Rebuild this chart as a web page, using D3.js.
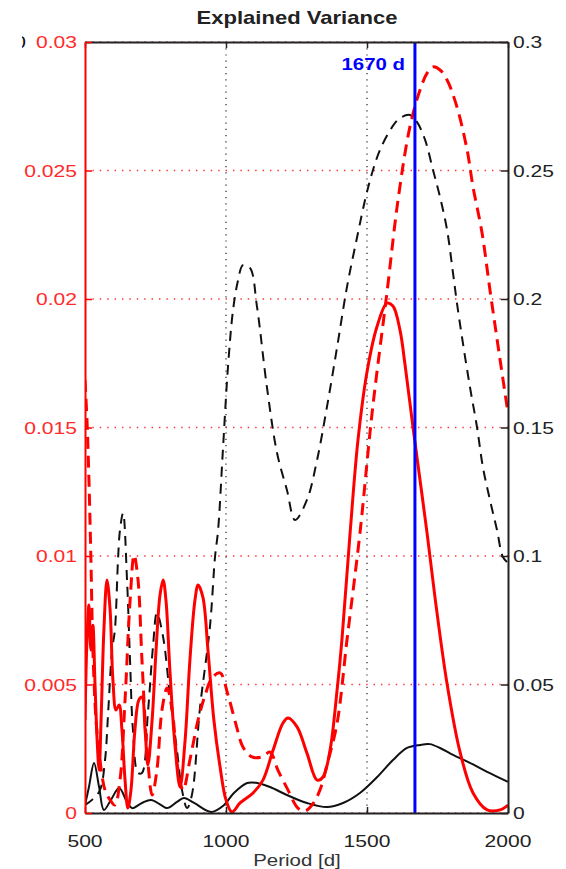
<!DOCTYPE html>
<html>
<head>
<meta charset="utf-8">
<script src="https://cdn.jsdelivr.net/npm/d3@7"></script>
<style>
  html, body { margin: 0; padding: 0; background: #fff; }
  svg { display: block; }
  text { font-family: "Liberation Sans", Arial, Helvetica, sans-serif; }
</style>
</head>
<body>
<svg id="chart" width="566" height="869"></svg>
<script>
// Period axis ticks and the two value axes
const periodTicks = [500, 1000, 1500, 2000];
const periodTickLabels = ["500", "1000", "1500", "2000"];
const leftTicks = [0, 0.005, 0.01, 0.015, 0.02, 0.025, 0.03];
const leftTickLabels = ["0", "0.005", "0.01", "0.015", "0.02", "0.025", "0.03"];
const rightTicks = [0, 0.05, 0.1, 0.15, 0.2, 0.25, 0.3];
const rightTickLabels = ["0", "0.05", "0.1", "0.15", "0.2", "0.25", "0.3"];
const markedPeriod = 1670;

// Red solid curve (left axis)
const redSolidPeriod = [500, 507, 514, 521, 528, 535, 543, 550, 557, 567, 578, 589, 599, 610, 621, 631, 642, 652, 663, 677, 691, 702, 713, 723, 738, 752, 766, 777, 787, 801, 819, 837, 855, 872, 890, 901, 918, 936, 957, 979, 1000, 1021, 1050, 1096, 1131, 1167, 1202, 1220, 1252, 1287, 1323, 1344, 1369, 1394, 1411, 1440, 1468, 1500, 1535, 1571, 1592, 1617, 1635, 1663, 1688, 1713, 1741, 1784, 1830, 1876, 1926, 1972, 2000];
const redSolidValue = [0.00362, 0.00673, 0.00809, 0.00634, 0.00731, 0.00517, 0.00284, 0.00167, 0.00362, 0.00712, 0.00907, 0.00790, 0.00517, 0.00401, 0.00420, 0.00323, 0.00128, 0.00019, 0.00089, 0.00323, 0.00440, 0.00451, 0.00323, 0.00187, 0.00362, 0.00634, 0.00848, 0.00907, 0.00829, 0.00556, 0.00265, 0.00101, 0.00284, 0.00595, 0.00829, 0.00887, 0.00840, 0.00634, 0.00362, 0.00179, 0.00051, 0.00004, 0.00039, 0.00078, 0.00128, 0.00245, 0.00350, 0.00370, 0.00335, 0.00233, 0.00128, 0.00140, 0.00245, 0.00479, 0.00673, 0.01089, 0.01451, 0.01716, 0.01891, 0.01984, 0.01973, 0.01879, 0.01743, 0.01502, 0.01296, 0.01089, 0.00840, 0.00502, 0.00237, 0.00078, 0.00012, 0.00012, 0.00031];

// Red dashed curve (left axis)
const redDashPeriod = [500, 507, 514, 521, 528, 539, 553, 571, 589, 606, 624, 642, 660, 674, 688, 702, 720, 738, 755, 773, 791, 809, 830, 848, 872, 901, 926, 950, 979, 1007, 1036, 1060, 1092, 1128, 1156, 1184, 1220, 1255, 1280, 1305, 1333, 1358, 1394, 1429, 1475, 1518, 1571, 1610, 1652, 1688, 1713, 1734, 1759, 1784, 1819, 1855, 1876, 1908, 1936, 1972, 2000];
const redDashValue = [0.01685, 0.01529, 0.01296, 0.00984, 0.00634, 0.00362, 0.00206, 0.00089, 0.00051, 0.00031, 0.00128, 0.00440, 0.00829, 0.01004, 0.00907, 0.00595, 0.00245, 0.00070, 0.00167, 0.00401, 0.00486, 0.00401, 0.00167, 0.00089, 0.00206, 0.00362, 0.00459, 0.00525, 0.00545, 0.00459, 0.00342, 0.00257, 0.00218, 0.00218, 0.00237, 0.00167, 0.00089, 0.00019, 0.00008, 0.00031, 0.00089, 0.00187, 0.00350, 0.00673, 0.01089, 0.01556, 0.02027, 0.02385, 0.02669, 0.02813, 0.02879, 0.02903, 0.02891, 0.02852, 0.02747, 0.02580, 0.02436, 0.02257, 0.02035, 0.01763, 0.01556];

// Black dashed curve (right axis)
const blackDashPeriod = [500, 525, 553, 571, 582, 596, 606, 617, 624, 635, 649, 660, 670, 688, 702, 723, 741, 755, 777, 801, 826, 844, 862, 879, 908, 943, 961, 972, 989, 1007, 1025, 1043, 1060, 1085, 1110, 1145, 1181, 1216, 1245, 1287, 1323, 1358, 1394, 1429, 1465, 1493, 1518, 1546, 1589, 1617, 1652, 1677, 1706, 1734, 1759, 1784, 1805, 1819, 1840, 1865, 1890, 1911, 1936, 1961, 1982, 2000];
const blackDashValue = [0.0031, 0.0051, 0.0089, 0.0206, 0.0389, 0.0634, 0.0712, 0.0984, 0.1101, 0.1167, 0.0907, 0.0584, 0.0323, 0.0156, 0.0156, 0.0389, 0.0646, 0.0778, 0.0685, 0.0459, 0.0245, 0.0089, 0.0019, 0.0070, 0.0412, 0.0724, 0.0996, 0.1101, 0.1412, 0.1735, 0.1957, 0.2074, 0.2132, 0.2121, 0.1969, 0.1658, 0.1401, 0.1257, 0.1140, 0.1218, 0.1374, 0.1580, 0.1813, 0.2047, 0.2241, 0.2385, 0.2490, 0.2580, 0.2669, 0.2704, 0.2716, 0.2689, 0.2619, 0.2502, 0.2397, 0.2268, 0.2101, 0.1984, 0.1829, 0.1658, 0.1502, 0.1346, 0.1218, 0.1101, 0.0996, 0.0973];

// Black solid curve (right axis)
const blackSolidPeriod = [500, 514, 532, 550, 567, 592, 621, 649, 667, 702, 734, 770, 791, 826, 851, 887, 947, 993, 1028, 1075, 1110, 1156, 1216, 1287, 1358, 1415, 1475, 1536, 1592, 1642, 1688, 1723, 1759, 1805, 1865, 1926, 2000];
const blackSolidValue = [0.0031, 0.0101, 0.0195, 0.0101, 0.0012, 0.0051, 0.0097, 0.0043, 0.0019, 0.0039, 0.0051, 0.0031, 0.0019, 0.0043, 0.0058, 0.0039, 0.0004, 0.0031, 0.0078, 0.0117, 0.0117, 0.0101, 0.0070, 0.0039, 0.0023, 0.0039, 0.0078, 0.0140, 0.0206, 0.0253, 0.0265, 0.0268, 0.0253, 0.0226, 0.0195, 0.0160, 0.0121];

const svg = d3.select("#chart");
const plot = { left: 85, right: 508, top: 42, bottom: 813 };

const x = d3.scaleLinear().domain([500, 2000]).range([plot.left, plot.right]);
const yL = d3.scaleLinear().domain([0, 0.03]).range([plot.bottom, plot.top]);
const yR = d3.scaleLinear().domain([0, 0.3]).range([plot.bottom, plot.top]);

const FONT = 17, SX = 1.24;

// text helper: glyphs widened horizontally to the axis lettering proportions
function label(g, str, px, py, anchor, opts = {}) {
  const t = g.append("text")
    .attr("transform", `translate(${px},${py}) scale(${opts.sx || SX},1)`)
    .attr("text-anchor", anchor)
    .attr("font-size", opts.size || FONT)
    .attr("fill", opts.fill || "#222")
    .text(str);
  if (opts.bold) t.attr("font-weight", "bold");
  return t;
}

// grid: red dotted horizontals at left ticks, black dotted verticals at inner periods
const grid = svg.append("g");
grid.selectAll("line.h").data(leftTicks).join("line")
  .attr("x1", plot.left).attr("x2", plot.right)
  .attr("y1", d => yL(d)).attr("y2", d => yL(d))
  .attr("stroke", "#ff3030").attr("stroke-width", 1.4)
  .attr("stroke-dasharray", "1.4,6");
grid.selectAll("line.v").data([1000, 1500]).join("line")
  .attr("x1", d => x(d)).attr("x2", d => x(d))
  .attr("y1", plot.top).attr("y2", plot.bottom)
  .attr("stroke", "#222").attr("stroke-width", 1.2)
  .attr("stroke-dasharray", "1.2,5");

// curves
const curve = d3.curveCatmullRom.alpha(0.5);
const lineL = d3.line().x(d => x(d[0])).y(d => yL(d[1])).curve(curve);
const lineR = d3.line().x(d => x(d[0])).y(d => yR(d[1])).curve(curve);
const zip = (a, b) => a.map((p, i) => [p, b[i]]);

const plotClip = svg.append("clipPath").attr("id", "plotclip");
plotClip.append("rect").attr("x", plot.left).attr("y", plot.top - 2)
  .attr("width", plot.right - plot.left).attr("height", plot.bottom - plot.top + 2);

const curves = svg.append("g").attr("clip-path", "url(#plotclip)");
curves.append("path").datum(zip(blackSolidPeriod, blackSolidValue))
  .attr("d", lineR).attr("fill", "none").attr("stroke", "#111").attr("stroke-width", 2);
curves.append("path").datum(zip(blackDashPeriod, blackDashValue))
  .attr("d", lineR).attr("fill", "none").attr("stroke", "#111").attr("stroke-width", 2)
  .attr("stroke-dasharray", "10,7");
curves.append("path").datum(zip(redDashPeriod, redDashValue))
  .attr("d", lineL).attr("fill", "none").attr("stroke", "#ff0000").attr("stroke-width", 3)
  .attr("stroke-dasharray", "12,7");
curves.append("path").datum(zip(redSolidPeriod, redSolidValue))
  .attr("d", lineL).attr("fill", "none").attr("stroke", "#ff0000").attr("stroke-width", 3);

// marked period
svg.append("line")
  .attr("x1", x(markedPeriod)).attr("x2", x(markedPeriod))
  .attr("y1", plot.top).attr("y2", plot.bottom)
  .attr("stroke", "#0000ff").attr("stroke-width", 3);
label(svg, markedPeriod + " d", x(markedPeriod) - 10, 70, "end", { fill: "#0000ff", bold: true, size: 17, sx: 1.2 });

// axes (ticks drawn inward, labels placed separately)
const axB = svg.append("g").attr("transform", `translate(0,${plot.bottom})`)
  .call(d3.axisBottom(x).tickValues(periodTicks).tickSize(-6).tickSizeOuter(0).tickFormat(""));
const axT = svg.append("g").attr("transform", `translate(0,${plot.top})`)
  .call(d3.axisTop(x).tickValues(periodTicks).tickSize(-6).tickSizeOuter(0).tickFormat(""));
const axR = svg.append("g").attr("transform", `translate(${plot.right},0)`)
  .call(d3.axisRight(yR).tickValues(rightTicks).tickSize(-7).tickSizeOuter(0).tickFormat(""));
const axL = svg.append("g").attr("transform", `translate(${plot.left},0)`)
  .call(d3.axisLeft(yL).tickValues(leftTicks).tickSize(-7).tickSizeOuter(0).tickFormat(""));
[axB, axT, axR].forEach(a => {
  a.select(".domain").attr("stroke", "#222").attr("stroke-width", 2);
  a.selectAll(".tick line").attr("stroke", "#222").attr("stroke-width", 1.5);
});
axL.select(".domain").attr("stroke", "#ff0000").attr("stroke-width", 2);
axL.selectAll(".tick line").attr("stroke", "#ff0000").attr("stroke-width", 1.5);

// tick labels
const labels = svg.append("g");
leftTicks.forEach((v, i) => label(labels, leftTickLabels[i], 77, yL(v) + 6, "end", { fill: "#ff2a2a" }));
rightTicks.forEach((v, i) => label(labels, rightTickLabels[i], 513, yR(v) + 6, "start"));
periodTicks.forEach((v, i) => label(labels, periodTickLabels[i], x(v), 847, "middle"));

// clipped fragment of a leftover label at the figure edge
const clip = svg.append("clipPath").attr("id", "edgeclip");
clip.append("rect").attr("x", 22).attr("y", 30).attr("width", 6).attr("height", 30);
label(svg.append("g").attr("clip-path", "url(#edgeclip)"), "0", 26, 48, "end", { fill: "#111" });

// title and axis name
label(svg, "Explained Variance", 297, 24, "middle", { bold: true, size: 17.5, sx: 1.26, fill: "#222" });
label(svg, "Period [d]", 297, 866, "middle", { size: 16.5, sx: 1.24, fill: "#333" });
</script>
</body>
</html>
